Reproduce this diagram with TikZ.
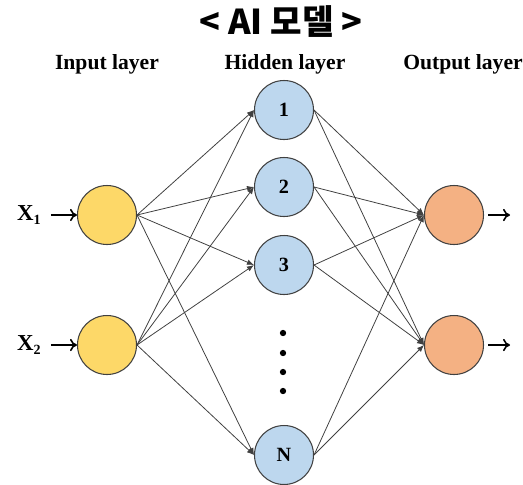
\documentclass[tikz,border=0pt]{standalone}
\usepackage{fontspec}
\setmainfont{Liberation Serif}
\newfontfamily\krfont{Noto Sans CJK KR}
\usepackage{tikz}
\usetikzlibrary{arrows.meta}

\definecolor{inyellow}{HTML}{FDD868}
\definecolor{hidblue}{HTML}{BDD7EE}
\definecolor{outorange}{HTML}{F4B183}

\begin{document}
\begin{tikzpicture}[
  x=0.02cm, y=-0.02cm,
  neuron/.style={circle, draw=black!75, line width=0.6pt, minimum size=1.18cm,
                 inner sep=0pt, font=\bfseries\fontsize{11.5}{13}\selectfont},
  layerlabel/.style={font=\bfseries\fontsize{12.3}{14}\selectfont},
  inlabel/.style={font=\bfseries\fontsize{13}{15}\selectfont},
  link/.style={-{Latex[length=4pt,width=3.2pt]}, black!75, line width=0.45pt},
  feed/.style={-{To[length=4pt,width=7pt]}, line width=0.9pt}
]
\useasboundingbox (0,0) rectangle (523,484);

% Title
\node[font=\krfont\bfseries\fontsize{19.5}{22}\selectfont] at (281,22) (title) {< AI 모델 >};

% Layer labels (y=65)
\node[layerlabel] at (107,64) (lin)  {Input layer};
\node[layerlabel] at (285,64) (lhid) {Hidden layer};
\node[layerlabel] at (463,64) (lout) {Output layer};

% Input layer
\node[neuron, fill=inyellow] at (107,215) (in1) {};
\node[neuron, fill=inyellow] at (107,345) (in2) {};

% Hidden layer
\node[neuron, fill=hidblue] at (284,110) (h1) {1};
\node[neuron, fill=hidblue] at (284,187) (h2) {2};
\node[neuron, fill=hidblue] at (284,265) (h3) {3};
\node[neuron, fill=hidblue] at (284,455) (hN) {N};

% Dots
\foreach \y in {333,353,372,391}
  \fill (283,\y) circle (1.8pt);

% Output layer
\node[neuron, fill=outorange] at (454,215) (o1) {};
\node[neuron, fill=outorange] at (454,345) (o2) {};

% Inputs and outputs
\node[inlabel] at (29,215) (x1) {X\raisebox{-0.3ex}{\fontsize{8}{9}\selectfont 1}};
\node[inlabel] at (29,345) (x2) {X\raisebox{-0.3ex}{\fontsize{8}{9}\selectfont 2}};
\draw[feed] (x1.east) ++(4,0) -- (in1);
\draw[feed] (x2.east) ++(4,0) -- (in2);
\coordinate (y1) at (510,215);
\coordinate (y2) at (510,345);
\draw[feed] (o1.east) ++(4,0) -- (y1);
\draw[feed] (o2.east) ++(4,0) -- (y2);

% Connections
\foreach \i in {in1,in2}
  \foreach \h in {h1,h2,h3,hN}
    \draw[link] (\i.east) -- (\h.west);
\foreach \h in {h1,h2,h3,hN}
  \foreach \o in {o1,o2}
    \draw[link] (\h.east) -- (\o.west);
\end{tikzpicture}
\end{document}
